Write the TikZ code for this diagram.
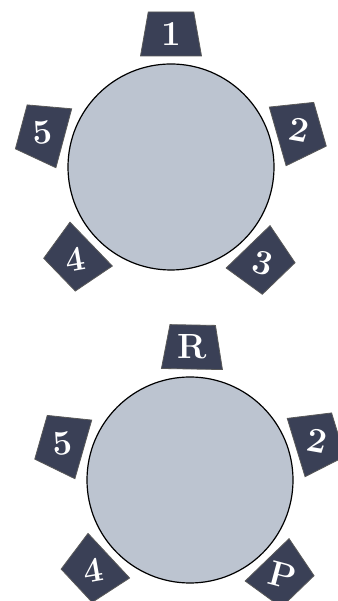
\documentclass[tikz,border=0pt]{standalone}
\usetikzlibrary{shapes.geometric,calc}
\definecolor{tablegrey}{RGB}{188,196,208}
\definecolor{chairslate}{RGB}{58,64,86}

\begin{document}
\begin{tikzpicture}[x=1pt,y=1pt,
      table/.style={circle,draw=black,line width=1.2pt,fill=tablegrey,
                    minimum size=206pt,inner sep=0pt},
      chair/.style={trapezium,trapezium angle=80,trapezium stretches body,
                    draw=gray!70!black,line width=0.8pt,fill=chairslate,
                    minimum width=61pt,inner sep=0pt},
      seat/.style={text=white,inner sep=0pt,font=\fontsize{35}{35}\selectfont\bfseries}]
    \useasboundingbox (0,0) rectangle (337,601);

    % ---- top table: five seats ----------------------------------------
    \node[table] (tabA) at (171,434) {};
    \foreach \a/\lbl/\n/\t in {90/1/1/0,16/2/2/-10,-46/3/3/-15,-136/4/4/10,165/5/5/4}{%
      \node[chair,rotate=\a-90] (seatA\n) at ($(tabA)+(\a:133pt)$) {\rule{0pt}{44pt}};
      \node[seat,rotate=\t] (nameA\n) at (seatA\n) {\lbl};}

    % ---- bottom table: R and P replace 1 and 3 ------------------------
    \node[table] (tabB) at (190,121) {};
    \foreach \a/\lbl/\n/\t in {89/R/1/0,17/2/2/-10,-46/P/3/-15,-137/4/4/10,164/5/5/4}{%
      \node[chair,rotate=\a-90] (seatB\n) at ($(tabB)+(\a:133pt)$) {\rule{0pt}{44pt}};
      \node[seat,rotate=\t] (nameB\n) at (seatB\n) {\lbl};}
  \end{tikzpicture}
\end{document}
